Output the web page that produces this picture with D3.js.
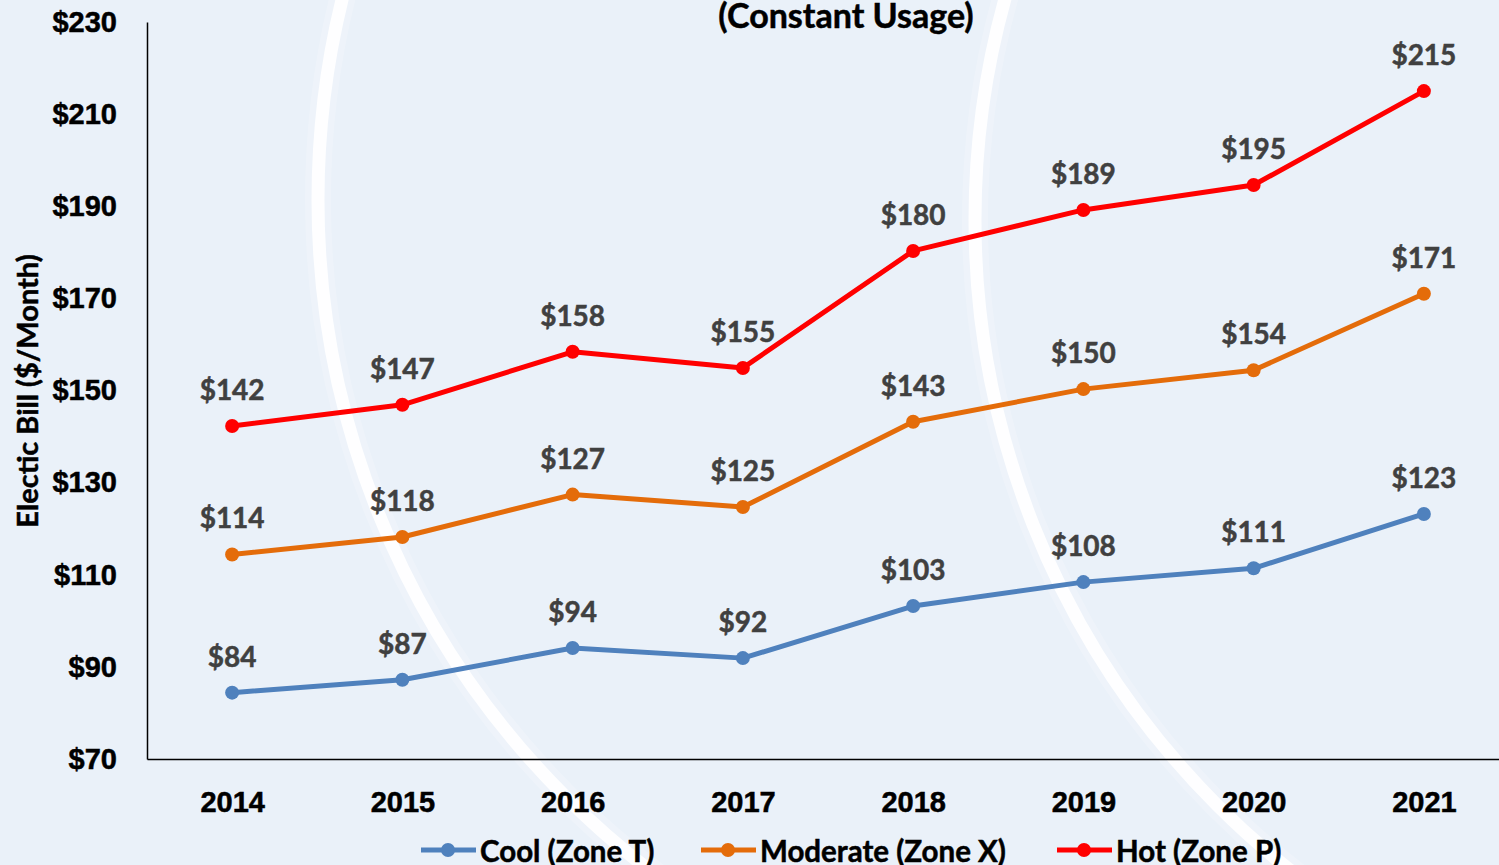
<!doctype html>
<html>
  <head>
    <title>Electric Bill (Constant Usage)</title>
    <script src="https://cdnjs.cloudflare.com/ajax/libs/d3/7.8.5/d3.min.js"></script>
    <style>
      body { margin: 0; background: #EAF1F9; }
      svg { display: block; font-family: Lato, "Noto Sans", sans-serif; font-weight: bold; }
      .arc { fill: none; stroke: #ffffff; }
      .axis text { fill: #000; font-size: 29px; font-weight: bold; stroke: #000; stroke-width: 0.5; }
      .axis path { stroke: #000; stroke-width: 1.5; }
      .label { fill: #404040; stroke: #404040; stroke-width: 0.5; font-size: 28px; text-anchor: middle; }
      .series { fill: none; stroke-width: 5; stroke-linejoin: round; }
      .legend text { font-size: 29.5px; fill: #000; stroke: #000; stroke-width: 0.5; }
      .title { fill: #000; stroke: #000; stroke-width: 0.5; }
    </style>
  </head>
  <body>
    <svg width="1499" height="865"></svg>
    <script>
      // chart values
      var years = ["2014", "2015", "2016", "2017", "2018", "2019", "2020", "2021"];
      var cool = [84.4, 87.2, 94.1, 91.9, 103.2, 108.4, 111.4, 123.2];
      var moderate = [114.4, 118.2, 127.4, 124.7, 143.2, 150.3, 154.4, 171.0];
      var hot = [142.3, 146.9, 158.4, 154.9, 180.3, 189.2, 194.6, 215.0];
      var yTicks = [70, 90, 110, 130, 150, 170, 190, 210, 230];

      var series = [
        { name: "Cool (Zone T)", color: "#4F81BD", values: cool, lx: 421 },
        { name: "Moderate (Zone X)", color: "#E46C0A", values: moderate, lx: 701 },
        { name: "Hot (Zone P)", color: "#FF0000", values: hot, lx: 1057 }
      ];

      var svg = d3.select("svg");

      // background arcs
      var arcs = [[1161, 200, 843], [1803, 220, 828]];
      arcs.forEach(function(a) {
        svg.append("circle").attr("class", "arc")
          .attr("cx", a[0]).attr("cy", a[1]).attr("r", a[2])
          .attr("stroke-width", 26).attr("stroke-opacity", 0.2);
        svg.append("circle").attr("class", "arc")
          .attr("cx", a[0]).attr("cy", a[1]).attr("r", a[2])
          .attr("stroke-width", 13).attr("stroke-opacity", 0.9);
      });

      var x = d3.scalePoint().domain(years).range([147, 1509]).padding(0.5);
      var y = d3.scaleLinear().domain([70, 230]).range([759, 22]);

      svg.append("g").attr("class", "axis")
        .attr("transform", "translate(147,0)")
        .call(d3.axisLeft(y).tickValues(yTicks).tickSize(0).tickPadding(30)
          .tickFormat(function(d) { return "$" + d; }));

      svg.append("g").attr("class", "axis")
        .attr("transform", "translate(0,759)")
        .call(d3.axisBottom(x).tickSize(0).tickPadding(32));

      svg.append("text").attr("class", "title")
        .attr("transform", "translate(38,391) rotate(-90)")
        .attr("text-anchor", "middle")
        .style("font-size", "29px")
        .text("Electic Bill ($/Month)");

      svg.append("text").attr("class", "title")
        .attr("x", 846).attr("y", 28)
        .attr("text-anchor", "middle")
        .style("font-size", "34px")
        .text("(Constant Usage)");

      var line = d3.line()
        .x(function(d, i) { return x(years[i]); })
        .y(function(d) { return y(d); });

      series.forEach(function(s) {
        var g = svg.append("g");
        g.append("path").attr("class", "series")
          .attr("stroke", s.color)
          .attr("d", line(s.values));
        g.selectAll("circle").data(s.values).enter()
          .append("circle")
            .attr("cx", function(d, i) { return x(years[i]); })
            .attr("cy", function(d) { return y(d); })
            .attr("r", 7)
            .attr("fill", s.color);
        g.selectAll("text").data(s.values).enter()
          .append("text").attr("class", "label")
            .attr("x", function(d, i) { return x(years[i]); })
            .attr("y", function(d) { return y(d) - 26; })
            .text(function(d) { return "$" + Math.round(d); });
      });

      var legend = svg.append("g").attr("class", "legend");
      series.forEach(function(s) {
        legend.append("line")
          .attr("x1", s.lx).attr("x2", s.lx + 55)
          .attr("y1", 850).attr("y2", 850)
          .attr("stroke", s.color).attr("stroke-width", 5);
        legend.append("circle")
          .attr("cx", s.lx + 27).attr("cy", 850).attr("r", 7)
          .attr("fill", s.color);
        legend.append("text")
          .attr("x", s.lx + 59).attr("y", 862)
          .text(s.name);
      });
    </script>
  </body>
</html>
